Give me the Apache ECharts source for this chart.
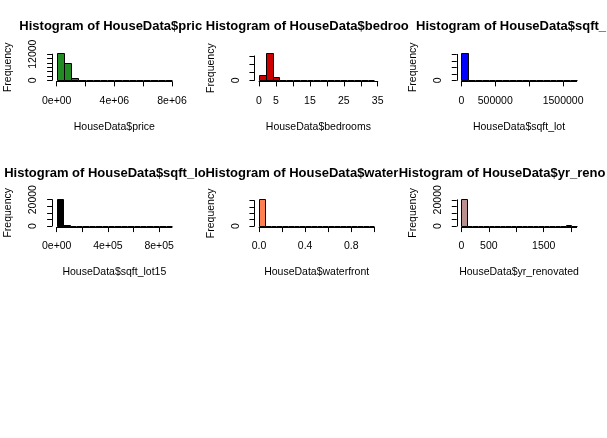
<!DOCTYPE html>
<html>
<head>
<meta charset="utf-8">
<script src="https://cdn.jsdelivr.net/npm/echarts@6/dist/echarts.min.js"></script>
<style>
  html, body { margin: 0; padding: 0; background: #fff; }
  #chart { width: 607px; height: 438px; }
</style>
</head>
<body>
<div id="chart"></div>
<script>
// DATA (counts, one value per bin)
const varNames = ["price", "bedrooms", "sqft_lot", "sqft_lot15", "waterfront", "yr_renovated"];
const binWidths = [500000, 2, 100000, 50000, 0.05, 100];

const priceCounts = [12460, 7850, 1050, 330, 120, 55, 30, 10, 8, 4, 4, 0, 0, 2, 0, 1];
const bedroomsCounts = [2960, 16700, 1870, 50, 10, 1, 0, 0, 0, 0, 0, 0, 0, 0, 0, 0, 1];
const sqftLotCounts = [20900, 450, 120, 60, 25, 12, 6, 4, 2, 2, 1, 1, 0, 1, 0, 0, 1];
const sqftLot15Counts = [20580, 640, 190, 110, 30, 15, 10, 8, 5, 3, 2, 1, 2, 1, 0, 0, 1, 1];
const waterfrontCounts = [21450, 0, 0, 0, 0, 0, 0, 0, 0, 0, 0, 0, 0, 0, 0, 0, 0, 0, 0, 163];
const yrRenovatedCounts = [20699, 0, 0, 0, 0, 0, 0, 0, 0, 0, 0, 0, 0, 0, 0, 0, 0, 0, 0, 540, 374];

// TICKS
const xTicks = [
  [0, 2e6, 4e6, 6e6, 8e6],
  [0, 5, 10, 15, 20, 25, 30, 35],
  [0, 5e5, 1e6, 1.5e6],
  [0, 2e5, 4e5, 6e5, 8e5],
  [0, 0.2, 0.4, 0.6, 0.8, 1.0],
  [0, 500, 1000, 1500, 2000]
];
const xLabelVals = [
  [0, 4e6, 8e6],
  [0, 5, 15, 25, 35],
  [0, 5e5, 1.5e6],
  [0, 4e5, 8e5],
  [0, 0.4, 0.8],
  [0, 500, 1500]
];
const xLabelText = [
  ["0e+00", "4e+06", "8e+06"],
  ["0", "5", "15", "25", "35"],
  ["0", "500000", "1500000"],
  ["0e+00", "4e+05", "8e+05"],
  ["0.0", "0.4", "0.8"],
  ["0", "500", "1500"]
];
const yTicks = [
  [0, 2000, 4000, 6000, 8000, 10000, 12000],
  [0, 5000, 10000, 15000],
  [0, 5000, 10000, 15000, 20000],
  [0, 5000, 10000, 15000, 20000],
  [0, 5000, 10000, 15000, 20000],
  [0, 5000, 10000, 15000, 20000]
];
const yLabelVals = [[0, 12000], [0], [0], [0, 20000], [0], [0, 20000]];

const allCounts = [priceCounts, bedroomsCounts, sqftLotCounts, sqftLot15Counts, waterfrontCounts, yrRenovatedCounts];

// STYLE
const fills = ["#228B22", "#CD0000", "#0000FF", "#000000", "#FF7F50", "#BC8F8F"];
const FONT = "Liberation Sans, Arial, sans-serif";
const TITLE_SIZE = 13.0;
const LABEL_SIZE = 10.5;

// LAYOUT (R style mfrow 3x3 panels)
const FIG_W = 607 / 3;
const PLOT_L0 = 52.1, PLOT_W = 124.5, PLOT_H = 29.3;
const ROW_Y0 = [80.3, 226];
const TITLE_Y = [26.5, 173];
const EXT = 0.04 / 1.08;

const measure = document.createElement("canvas").getContext("2d");
measure.font = "bold " + TITLE_SIZE + "px " + FONT;

function titleLayout(i){
  const c = i % 3;
  const text = "Histogram of HouseData$" + varNames[i];
  const cx = PLOT_L0 + c * FIG_W + PLOT_W / 2;
  return {text, left: cx - measure.measureText(text).width / 2, c};
}

function clipTitle(text, left, limit){
  // keep chars that are mostly still left of the clip edge
  let out = "";
  for (const ch of text){
    const w0 = measure.measureText(out).width;
    const w1 = measure.measureText(out + ch).width;
    if (left + w0 + 0.35 * (w1 - w0) > limit) break;
    out += ch;
  }
  return out;
}

const px = (v) => Math.round(v) + 0.5;

const grids = [], xAxes = [], yAxes = [], series = [], titles = [];
const layouts = varNames.map((_, i) => titleLayout(i));

varNames.forEach((name, i) => {
  const r = Math.floor(i / 3), c = i % 3;
  const counts = allCounts[i];
  const bw = binWidths[i];
  const b1 = counts.length * bw;
  const sx = PLOT_W / (1.08 * b1);
  const xt = xTicks[i];
  const xMax = Math.max(b1, xt[xt.length - 1]);
  const ymax = Math.max(...counts);
  const sy = PLOT_H / (1.08 * ymax);
  const yt = yTicks[i];
  const yTop = yt[yt.length - 1];
  const L = PLOT_L0 + c * FIG_W;

  grids.push({
    left: L + PLOT_W * EXT, width: xMax * sx,
    top: ROW_Y0[r] - yTop * sy, height: yTop * sy,
    containLabel: false
  });

  const labelStyle = {color: "#000", fontSize: LABEL_SIZE, fontFamily: FONT};

  xAxes.push({
    gridIndex: i, type: "value", min: 0, max: xMax,
    offset: PLOT_H * EXT,
    axisLine: {show: true, onZero: false, lineStyle: {color: "#000", width: 1}},
    axisTick: {show: true, length: 5, lineStyle: {color: "#000", width: 1}, customValues: xt},
    axisLabel: Object.assign({
      customValues: xLabelVals[i], margin: 14,
      formatter: (v) => {
        const k = xLabelVals[i].findIndex((x) => Math.abs(x - v) < 1e-9);
        return k < 0 ? "" : xLabelText[i][k];
      }
    }, labelStyle),
    splitLine: {show: false},
    name: "HouseData$" + name, nameLocation: "middle", nameGap: 40,
    nameTextStyle: labelStyle
  });

  yAxes.push({
    gridIndex: i, type: "value", min: 0, max: yTop,
    offset: PLOT_W * EXT,
    axisLine: {show: true, onZero: false, lineStyle: {color: "#000", width: 1}},
    axisTick: {show: true, length: 5, lineStyle: {color: "#000", width: 1}, customValues: yt},
    axisLabel: Object.assign({customValues: yLabelVals[i], rotate: 90, margin: 13, formatter: (v) => String(v)}, labelStyle),
    splitLine: {show: false},
    name: "Frequency", nameLocation: "middle", nameGap: 38,
    nameTextStyle: labelStyle
  });

  const fill = fills[i];
  series.push({
    type: "custom", xAxisIndex: i, yAxisIndex: i, silent: true,
    data: counts.map((n, k) => [k * bw, (k + 1) * bw, n]),
    encode: {x: [0, 1], y: 2},
    renderItem: (params, api) => {
      const a = api.coord([api.value(0), 0]);
      const b = api.coord([api.value(1), api.value(2)]);
      const x0 = px(a[0]), x1 = px(b[0]), y0 = px(a[1]), y1 = px(b[1]);
      if (y0 - y1 < 1) {
        // bars too low to show a body still leave their border on the baseline
        return {type: "line", shape: {x1: x0, y1: y0, x2: x1, y2: y0}, style: {stroke: "#000", lineWidth: 1}};
      }
      return {
        type: "rect",
        shape: {x: x0, y: y1, width: x1 - x0, height: y0 - y1},
        style: {fill, stroke: "#000", lineWidth: 1}
      };
    }
  });

  // titles clipped at the figure edge (or where the next title begins)
  const lay = layouts[i];
  let limit = (c + 1) * FIG_W;
  if (c < 2) limit = Math.min(limit, layouts[i + 1].left);
  titles.push({
    text: clipTitle(lay.text, lay.left, limit),
    left: lay.left, top: TITLE_Y[r] - 8, padding: 0,
    textStyle: {color: "#000", fontWeight: "bold", fontSize: TITLE_SIZE, fontFamily: FONT, lineHeight: 16}
  });
});

const chart = echarts.init(document.getElementById("chart"), null, {renderer: "canvas"});
chart.setOption({
  backgroundColor: "#fff",
  animation: false,
  title: titles,
  grid: grids,
  xAxis: xAxes,
  yAxis: yAxes,
  series
});
</script>
</body>
</html>
